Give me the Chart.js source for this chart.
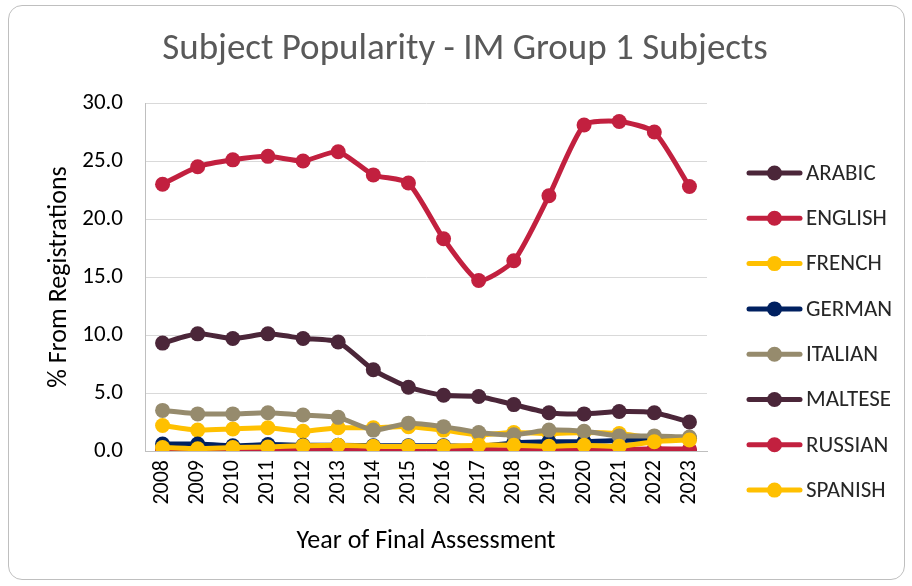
<!DOCTYPE html>
<html>
<head>
<meta charset="utf-8">
<script src="https://cdn.jsdelivr.net/npm/chart.js@4"></script>
<style>
  html, body { margin: 0; padding: 0; background: #fff; }
  #wrap { position: relative; width: 912px; height: 586px; }
  #frame { position: absolute; left: 8px; top: 5px; width: 895px; height: 573px;
           border: 1px solid #bfbfbf; border-radius: 14px; }
  canvas { position: absolute; left: 0; top: 0; }
</style>
</head>
<body>
<div id="wrap">
  <div id="frame"></div>
  <canvas id="chart" width="912" height="586"></canvas>
</div>
<script>
const FONT = "Carlito, Lato, 'Noto Sans', sans-serif";

const years = ['2008','2009','2010','2011','2012','2013','2014','2015','2016','2017','2018','2019','2020','2021','2022','2023'];
const subjects = ['ARABIC','ENGLISH','FRENCH','GERMAN','ITALIAN','MALTESE','RUSSIAN','SPANISH'];
const colors = ['#4b2639','#c2203f','#ffc000','#002060','#968b6d','#4b2639','#c2203f','#ffc000'];

const arabic  = [0.05, 0.05, 0.05, 0.05, 0.05, 0.05, 0.05, 0.05, 0.05, 0.05, 0.05, 0.05, 0.05, 0.05, 0.05, 0.05];
const english = [23.0, 24.5, 25.1, 25.4, 25.0, 25.8, 23.8, 23.1, 18.3, 14.7, 16.4, 22.0, 28.1, 28.4, 27.5, 22.8];
const french  = [2.2, 1.8, 1.9, 2.0, 1.7, 2.0, 2.0, 2.1, 1.8, 1.4, 1.6, 1.5, 1.6, 1.5, 1.1, 1.1];
const german  = [0.6, 0.6, 0.45, 0.55, 0.5, 0.5, 0.45, 0.45, 0.45, 0.4, 0.7, 0.8, 0.8, 0.9, 1.0, 1.1];
const italian = [3.5, 3.2, 3.2, 3.3, 3.1, 2.9, 1.8, 2.4, 2.1, 1.6, 1.4, 1.8, 1.7, 1.3, 1.3, 1.2];
const maltese = [9.3, 10.1, 9.7, 10.1, 9.7, 9.4, 7.0, 5.5, 4.8, 4.7, 4.0, 3.3, 3.2, 3.4, 3.3, 2.5];
const russian = [0.1, 0.1, 0.1, 0.1, 0.1, 0.1, 0.1, 0.1, 0.1, 0.1, 0.1, 0.1, 0.15, 0.1, 0.2, 0.15];
const spanish = [0.3, 0.2, 0.3, 0.35, 0.45, 0.5, 0.4, 0.4, 0.4, 0.5, 0.5, 0.4, 0.5, 0.4, 0.8, 0.95];

const series = [arabic, english, french, german, italian, maltese, russian, spanish];

const yTicks = [0, 5, 10, 15, 20, 25, 30];

// title + legend drawn by hand so they sit where the reference has them
const extras = {
  id: 'extras',
  afterDraw(chart) {
    const ctx = chart.ctx;
    ctx.save();
    ctx.fillStyle = '#595959';
    ctx.font = '37px ' + FONT;
    ctx.textAlign = 'center';
    ctx.textBaseline = 'middle';
    ctx.fillText('Subject Popularity - IM Group 1 Subjects', 465, 50);

    ctx.font = '23px ' + FONT;
    ctx.textAlign = 'left';
    subjects.forEach((name, i) => {
      const y = 173 + i * 45.3;
      ctx.strokeStyle = colors[i];
      ctx.lineWidth = 5;
      ctx.lineCap = 'round';
      ctx.beginPath();
      ctx.moveTo(749, y);
      ctx.lineTo(800, y);
      ctx.stroke();
      ctx.fillStyle = colors[i];
      ctx.beginPath();
      ctx.arc(774.5, y, 7.5, 0, Math.PI * 2);
      ctx.fill();
      ctx.fillStyle = '#262626';
      ctx.fillText(name, 806, y + 1);
    });
    ctx.restore();
  }
};

new Chart(document.getElementById('chart'), {
  type: 'line',
  data: {
    labels: years,
    datasets: subjects.map((name, i) => ({
      label: name,
      data: series[i],
      borderColor: colors[i],
      backgroundColor: colors[i],
      borderWidth: 5,
      pointRadius: 7.5,
      pointBorderWidth: 0,
      tension: 0.2,
      order: subjects.length - i
    }))
  },
  options: {
    responsive: false,
    animation: false,
    layout: { padding: { left: 8, right: 205, top: 103, bottom: 29 } },
    plugins: {
      legend: { display: false },
      title: { display: false },
      tooltip: { enabled: false }
    },
    scales: {
      x: {
        offset: true,
        grid: { display: false, drawTicks: false },
        border: { color: '#bfbfbf', width: 1 },
        ticks: { color: '#000', font: { family: FONT, size: 22 }, minRotation: 90, maxRotation: 90, padding: 9 },
        title: { display: true, text: 'Year of Final Assessment', color: '#000', font: { family: FONT, size: 26 }, padding: { top: 0, bottom: 0 } },
        afterFit(scale) { scale.height = 106; }
      },
      y: {
        min: 0,
        max: 30,
        afterBuildTicks(scale) { scale.ticks = yTicks.map(v => ({ value: v })); },
        grid: { color: '#d9d9d9', drawTicks: false },
        border: { color: '#bfbfbf', width: 1 },
        ticks: { color: '#000', font: { family: FONT, size: 23 }, padding: 22, callback: v => v.toFixed(1) },
        title: { display: true, text: '% From Registrations', color: '#000', font: { family: FONT, size: 26 }, padding: { top: 36, bottom: 0 } },
        afterFit(scale) { scale.width = 137; }
      }
    }
  },
  plugins: [extras]
});
</script>
</body>
</html>
